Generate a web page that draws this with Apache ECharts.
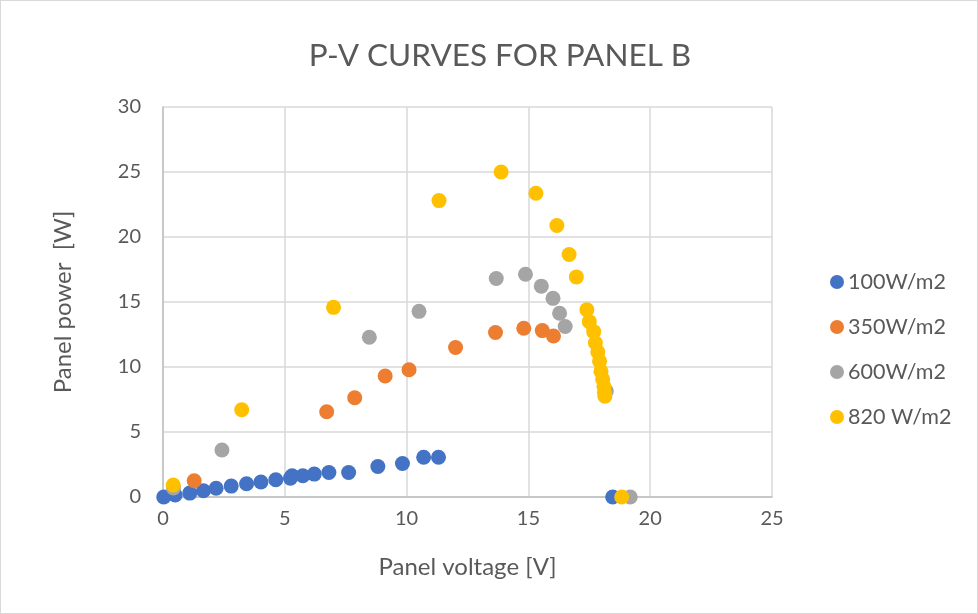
<!DOCTYPE html>
<html><head><meta charset="utf-8">
<script src="https://cdn.jsdelivr.net/npm/echarts@6/dist/echarts.min.js"></script>
<style>html,body{margin:0;padding:0;background:#fff}#c{width:978px;height:614px;box-sizing:border-box;border:1px solid #D9D9D9}</style>
</head><body><div id="c"></div>
<script>
const seriesNames = ['100W/m2', '350W/m2', '600W/m2', '820 W/m2'];
const v100 = [0.03,0.5,1.1,1.66,2.18,2.8,3.43,4.02,4.63,5.23,5.3,5.74,6.21,6.81,7.62,8.82,9.83,10.7,11.31,18.46];
const p100 = [0.0,0.15,0.3,0.48,0.67,0.84,1.02,1.15,1.33,1.45,1.63,1.63,1.76,1.89,1.89,2.35,2.58,3.06,3.06,0.0];
const v350 = [1.28,6.72,7.87,9.12,10.1,12.01,13.65,14.81,15.57,16.03];
const p350 = [1.25,6.56,7.63,9.31,9.79,11.5,12.65,12.98,12.8,12.39];
const v600 = [0.43,2.42,8.47,10.51,13.68,14.88,15.53,16.01,16.28,16.51,18.2,19.18];
const p600 = [0.7,3.62,12.29,14.28,16.81,17.14,16.22,15.28,14.13,13.11,8.15,0.0];
const v820 = [0.42,3.23,7.0,11.33,13.88,15.31,16.17,16.67,16.97,17.4,17.5,17.68,17.75,17.85,17.92,17.98,18.05,18.1,18.12,18.14,18.83];
const p820 = [0.92,6.71,14.59,22.8,25.0,23.36,20.89,18.65,16.93,14.4,13.49,12.72,11.86,11.15,10.45,9.66,9.05,8.52,8.05,7.75,0.0];
const xTicks = [0,5,10,15,20,25];
const yTicks = [0,5,10,15,20,25,30];
const colors = ['#4472C4','#ED7D31','#A5A5A5','#FFC000'];
const zip = (a,b) => a.map((x,i)=>[x,b[i]]);
const allData = [zip(v100,p100), zip(v350,p350), zip(v600,p600), zip(v820,p820)];
const FONT = 'Lato';
const chart = echarts.init(document.getElementById('c'));
chart.setOption({
  animation:false,
  color: colors,
  textStyle:{fontFamily:FONT},
  title:{text:'P-V CURVES FOR PANEL B', left:494, top:34, textAlign:'center',
    textStyle:{fontFamily:FONT, fontSize:31.5, fontWeight:'normal', color:'#595959'}},
  legend:{orient:'vertical', left:824, top:265, itemGap:23, itemWidth:14, itemHeight:14, icon:'circle',
    data: seriesNames,
    textStyle:{fontFamily:FONT, fontSize:21.5, color:'#595959', padding:[0,0,0,-1]}},
  grid:{left:162, right:205, top:106, bottom:116, containLabel:false},
  xAxis:{type:'value', min:xTicks[0], max:xTicks[xTicks.length-1], interval:5,
    name:'Panel voltage [V]', nameLocation:'middle', nameGap:58,
    nameTextStyle:{fontFamily:FONT, fontSize:24, color:'#595959'},
    axisLine:{show:true, onZero:false, lineStyle:{color:'#BFBFBF', width:1.5}},
    axisTick:{show:false},
    axisLabel:{fontFamily:FONT, fontSize:20, color:'#595959', margin:12},
    splitLine:{show:true, lineStyle:{color:'#D9D9D9', width:1.5}}},
  yAxis:{type:'value', min:yTicks[0], max:yTicks[yTicks.length-1], interval:5,
    name:'Panel power  [W]', nameLocation:'middle', nameGap:88, nameRotate:90,
    nameTextStyle:{fontFamily:FONT, fontSize:24, color:'#595959'},
    axisLine:{show:true, onZero:false, lineStyle:{color:'#BFBFBF', width:1.5}},
    axisTick:{show:false},
    axisLabel:{fontFamily:FONT, fontSize:20, color:'#595959', margin:22},
    splitLine:{show:true, lineStyle:{color:'#D9D9D9', width:1.5}}},
  series: seriesNames.map((n,i)=>({name:n, type:'scatter', symbol:'circle', symbolSize:15,
    data: allData[i], itemStyle:{color:colors[i], opacity:1}, z:2+i}))
});
</script></body></html>
